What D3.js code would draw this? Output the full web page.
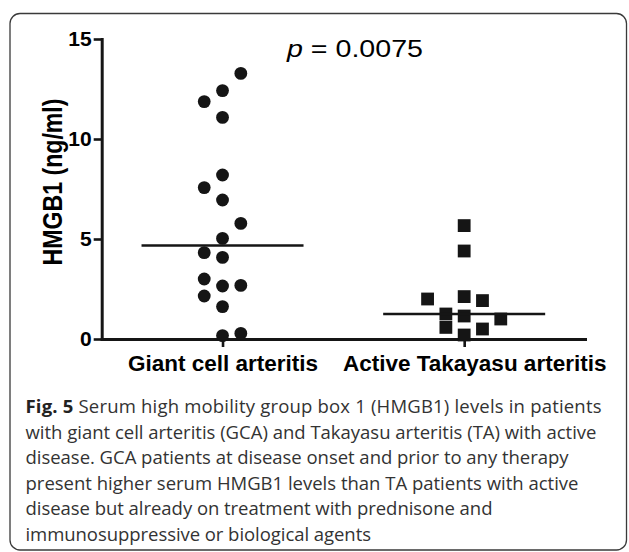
<!DOCTYPE html>
<html>
<head>
<meta charset="utf-8">
<script src="https://cdn.jsdelivr.net/npm/d3@7"></script>
<style>
  html, body { margin: 0; padding: 0; background: #fff; }
  svg { display: block; }
</style>
</head>
<body>
<script>
// ---- data ----
const categories = ["Giant cell arteritis", "Active Takayasu arteritis"];
const gcaValues = [13.28, 12.42, 11.87, 11.08, 8.2, 7.57, 6.95, 5.78, 5.03, 4.32, 4.08, 3.0, 2.65, 2.68, 2.15, 1.62, 0.17, 0.28];
const gcaLanes  = [1, 0, -1, 0, 0, -1, 0, 1, 0, -1, 0, -1, 0, 1, -1, 0, 0, 1];
const taValues  = [5.67, 4.4, 2.0, 2.12, 1.92, 1.25, 1.15, 1.0, 0.58, 0.5, 0.2];
const taLanes   = [0, 0, -2, 0, 1, -1, 0, 2, -1, 1, 0];
const yTicks = [0, 5, 10, 15];
const yLabel = "HMGB1 (ng/ml)";
const pValue = "0.0075";
const captionBold = "Fig. 5";
const captionLines = [
  " Serum high mobility group box 1 (HMGB1) levels in patients",
  "with giant cell arteritis (GCA) and Takayasu arteritis (TA) with active",
  "disease. GCA patients at disease onset and prior to any therapy",
  "present higher serum HMGB1 levels than TA patients with active",
  "disease but already on treatment with prednisone and",
  "immunosuppressive or biological agents"
];

// ---- layout ----
const W = 629, H = 552;
const ink = "#151515";
const captionWidths = [576, 571, 543, 553, 467, 345.5];
const svg = d3.select("body").append("svg").attr("width", W).attr("height", H);

svg.append("rect").attr("x", 0).attr("y", 0).attr("width", W).attr("height", H).attr("fill", "#fff");
svg.append("rect")
  .attr("x", 10).attr("y", 13.5).attr("width", 616.5).attr("height", 536.5)
  .attr("rx", 10).attr("ry", 10)
  .attr("fill", "none").attr("stroke", "#3a3a3a").attr("stroke-width", 1.3);

const x = d3.scalePoint().domain(categories).range([101.7, 585]).padding(0.5);
const y = d3.scaleLinear().domain([0, 15]).range([339, 39]);
const lane = d3.scaleLinear().domain([-1, 1]).range([-18.3, 18.3]);

const g = svg.append("g");

// axes
const yAxis = g.append("g").attr("transform", `translate(${x.range()[0]},0)`)
  .call(d3.axisLeft(y).tickValues(yTicks).tickSize(8).tickSizeOuter(0).tickPadding(2));
const xAxis = g.append("g").attr("transform", `translate(0,${y(0)})`)
  .call(d3.axisBottom(x).tickSize(8).tickSizeOuter(0).tickPadding(8));

[yAxis, xAxis].forEach(a => {
  a.select(".domain").attr("stroke", ink).attr("stroke-width", 3).attr("stroke-linecap", "square");
  a.selectAll(".tick line").attr("stroke", ink).attr("stroke-width", 2.6);
  a.selectAll("text").attr("fill", "#000").attr("font-family", "'Liberation Sans', Arial, sans-serif").attr("font-weight", "bold");
});
yAxis.selectAll("text").attr("font-size", 21);
xAxis.selectAll("text").attr("font-size", 22.5)
  .attr("dx", (d, i) => i === 1 ? 10 : 0);

// y label
svg.append("text")
  .attr("transform", `translate(61.5,${(y(0) + y(15)) / 2 - 7}) rotate(-90)`)
  .attr("text-anchor", "middle")
  .attr("font-family", "'Liberation Sans', Arial, sans-serif")
  .attr("font-weight", "bold").attr("font-size", 27)
  .attr("textLength", 167).attr("lengthAdjust", "spacingAndGlyphs")
  .attr("fill", "#000")
  .text(yLabel);

// p value
const pt = svg.append("text")
  .attr("x", 287).attr("y", 57)
  .attr("font-family", "'Liberation Sans', Arial, sans-serif")
  .attr("font-size", 23).attr("fill", "#000")
  .attr("textLength", 136).attr("lengthAdjust", "spacingAndGlyphs");
pt.append("tspan").attr("font-style", "italic").text("p");
pt.append("tspan").text(" = " + pValue);

// points
const gca = gcaValues.map((v, i) => ({ v, l: gcaLanes[i] }));
const ta = taValues.map((v, i) => ({ v, l: taLanes[i] }));
const r = 6.4, s = 12.8;

g.selectAll("circle.gca").data(gca).join("circle")
  .attr("class", "gca")
  .attr("cx", d => x(categories[0]) + lane(d.l))
  .attr("cy", d => y(d.v))
  .attr("r", r).attr("fill", ink);

g.selectAll("rect.ta").data(ta).join("rect")
  .attr("class", "ta")
  .attr("x", d => x(categories[1]) + lane(d.l) - s / 2)
  .attr("y", d => y(d.v) - s / 2)
  .attr("width", s).attr("height", s).attr("fill", ink);

// median lines
const medians = [
  { c: categories[0], m: d3.median(gcaValues) },
  { c: categories[1], m: d3.median(taValues) }
];
g.selectAll("line.med").data(medians).join("line")
  .attr("class", "med")
  .attr("x1", d => x(d.c) - 81).attr("x2", d => x(d.c) + 81)
  .attr("y1", d => y(d.m)).attr("y2", d => y(d.m))
  .attr("stroke", ink).attr("stroke-width", 2.6);

// caption
const capFont = "'Open Sans', 'Noto Sans', sans-serif";
const cap = svg.append("g").attr("font-family", capFont).attr("fill", "#333");
const lines = cap.selectAll("text").data(captionLines).join("text")
  .attr("x", 25.5)
  .attr("y", (d, i) => 413 + i * 25.6)
  .attr("font-size", 18);
lines.each(function (d, i) {
  const t = d3.select(this);
  if (i === 0) t.append("tspan").attr("font-weight", "bold").attr("fill", "#222").text(captionBold);
  t.append("tspan").text(d);
});
// fit caption font to the overall width, then match each line's width
const total = d3.sum(lines.nodes(), n => n.getComputedTextLength());
const fs = 18 * (d3.sum(captionWidths) / total);
lines.attr("font-size", fs)
  .attr("textLength", (d, i) => captionWidths[i])
  .attr("lengthAdjust", "spacing");
</script>
</body>
</html>
